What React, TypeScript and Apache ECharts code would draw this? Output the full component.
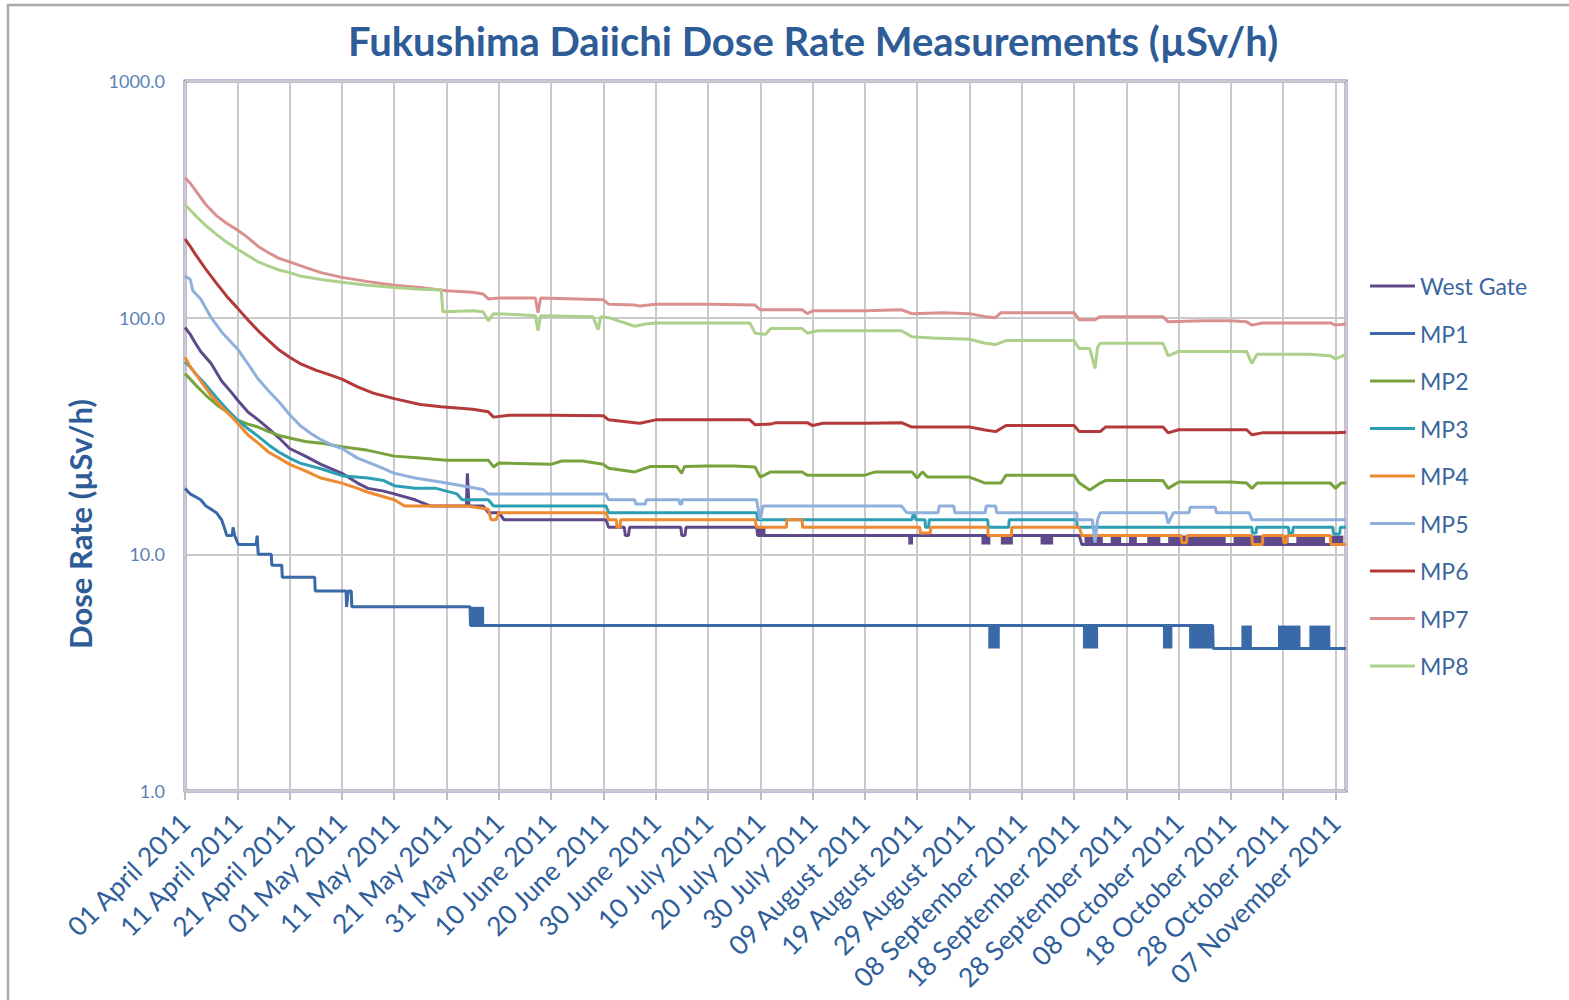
import React, { useEffect, useRef } from "react";
import * as echarts from "echarts";

const seriesNames = ["West Gate", "MP1", "MP2", "MP3", "MP4", "MP5", "MP6", "MP7", "MP8"];
const seriesColors = ["#5E4A8A", "#3A69A7", "#78A33C", "#2C9FB4", "#EE8A32", "#8FB0DC", "#B3393A", "#DA9090", "#ADD08A"];

const xTickLabels = [
  "01 April 2011", "11 April 2011", "21 April 2011", "01 May 2011", "11 May 2011", "21 May 2011",
  "31 May 2011", "10 June 2011", "20 June 2011", "30 June 2011", "10 July 2011", "20 July 2011",
  "30 July 2011", "09 August 2011", "19 August 2011", "29 August 2011", "08 September 2011",
  "18 September 2011", "28 September 2011", "08 October 2011", "18 October 2011",
  "28 October 2011", "07 November 2011",
];
const yTickValues = [1, 10, 100, 1000];

// [day since 01 April 2011, dose rate µSv/h]
const westGate = [[0,91],[1,85],[2,78],[3,72],[5,64],[7,54],[9,48],[10,45],[12,40],[14,37],[16,34],[18,31],[20,28],[23,26],[26,24],[30,22],[33,20],[35,19],[38,18.5],[40,18],[44,17],[47,16],[53.8,16],[54,22],[54.3,16],[57,16],[58,15],[60,15],[61,14],[80.5,14],[81,13],[84,13],[84.2,12],[84.8,12],[85,13],[94.8,13],[95,12],[95.6,12],[95.8,13],[109.3,13],[109.5,12],[171,12],[171.5,11],[222,11]];
const westGateBlocks = [[109.4,111,12,13],[138.3,139.2,11,12],[152.3,154,11,12],[156,158.3,11,12],[163.6,166,11,12],[172,175.5,11,12],[177,179,11,12],[180.5,182,11,12],[184,186.5,11,12],[188,199,11,12],[200.5,211,11,12],[212.5,218,11,12],[219,221.5,11,12]];

const mp1 = [[0,19],[1,18],[2,17.5],[3,17],[4,16],[5,15.5],[6,15],[7,14],[7.5,13],[8,12],[9,12],[9.2,13],[9.5,12],[10.2,11],[13.6,11],[13.8,12],[14,10],[16.5,10],[16.6,9],[18.5,9],[18.6,8],[24.8,8],[24.9,7],[30.8,7],[30.9,6],[31.2,7],[31.8,7],[31.9,6],[54.5,6],[54.6,5],[196.5,5],[196.6,4],[222,4]];
const mp1Blocks = [[54.6,57.2,5,6],[153.6,155.8,4,5],[171.7,174.6,4,5],[187,188.8,4,5],[192,196.5,4,5],[202,204,4,5],[209,213.3,4,5],[215,219,4,5]];

const mp2 = [[0,58],[1,55],[2,52],[4,47],[6,43],[8,40],[10,37],[12,35.5],[14,34.5],[16,33],[18,31.8],[20,31],[23,30],[26,29.5],[30,28.5],[35,27.5],[40,26],[45,25.5],[50,25],[55,25],[58,25],[59,23.4],[60,24.3],[70,24],[72,24.8],[76,24.8],[80,24],[81,23.1],[86,22.3],[89,23.5],[94,23.5],[95,22],[95.5,23.5],[100,23.6],[105,23.6],[109,23.4],[110,21.2],[112,22.3],[118,22.3],[119,21.6],[130,21.6],[132,22.3],[139,22.3],[140,21],[141,22.3],[142,21.2],[150,21.2],[153,20],[156,20],[157,21.6],[165,21.6],[170,21.6],[171,20],[173,18.7],[175,20],[176,20.5],[187,20.5],[188,19],[190,20.2],[200,20.2],[203,20],[204,19],[205,20],[215,20],[219,20],[220,19],[221,20],[222,20]];

const mp3 = [[0,65],[1,62],[2,58],[4,52],[6,46],[8,41],[10,37],[12,34],[14,31.5],[16,29],[18,27],[20,25.5],[22,24.3],[26,23],[30,21.5],[35,21],[38,20.5],[40,19.5],[44,19],[48,19],[52,18],[53,17],[58,17],[59,16],[80.5,16],[81,15],[109.3,15],[109.5,14],[139,14],[139.3,15],[139.8,14],[141.5,14],[141.6,13],[142.2,13],[142.3,14],[153.5,14],[153.6,13],[157.5,13],[157.6,14],[170.5,14],[170.6,13],[204,13],[204.1,12.3],[204.8,12.3],[204.9,13],[211,13],[211.1,12.3],[211.8,12.3],[211.9,13],[219.5,13],[219.6,12.2],[220.8,12.2],[220.9,13],[222,13]];

const mp4 = [[0,68],[1,62],[2,58],[3,54],[5,47],[7,42],[9,38],[10,36],[12,32],[14,29.5],[16,27],[18,25.5],[20,24],[23,22.5],[26,21],[30,20],[33,19],[35,18.3],[38,17.5],[40,17],[42,16],[54,16],[58,15.5],[58.5,14],[59.5,14],[60,15],[80.5,15],[81,14],[82.5,14],[82.6,13],[83.2,13],[83.3,14],[109,14],[109.3,13],[115,13],[115.1,14],[118,14],[118.1,13],[140.5,13],[140.6,12.3],[142.5,12.3],[142.6,13],[153.5,13],[153.6,12],[158,12],[158.1,13],[171,13],[171.5,12],[190.5,12],[190.6,11.2],[191.5,11.2],[191.6,12],[204,12],[204.1,11],[206,11],[206.1,12],[210,12],[210.1,11.2],[210.6,11.2],[210.7,12],[219,12],[219.1,11],[222,11]];

const mp5 = [[0,150],[1,145],[1.5,130],[3,120],[5,100],[7,87],[9,78],[10,74],[12,64],[14,55],[16,49],[18,44],[20,39],[22,35],[24,32.5],[26,30.5],[28,29],[30,28],[33,25.5],[36,24],[38,23],[40,22],[42,21.5],[44,21],[47,20.5],[50,20],[54,19.3],[57,18.8],[58,18],[80.5,18],[81,17],[86,17],[86.2,16.3],[88,16.3],[88.2,17],[94.5,17],[94.6,16.3],[95,16.3],[95.1,17],[109.3,17],[109.5,16],[110,14],[110.5,16],[137,16],[138,15],[144,15],[144.2,16],[147,16],[147.2,15],[153,15],[153.2,16],[155,16],[155.2,15],[170.5,15],[170.6,14],[173.5,14],[174,11.2],[174.5,14],[175,15],[187.5,15],[188,13.5],[189,15],[192,15],[192.2,15.8],[197,15.8],[197.2,15],[203.5,15],[204,14],[222,14]];

const mp6 = [[0,215],[1,200],[2,185],[4,160],[6,140],[8,123],[10,110],[12,98],[14,88],[16,80],[18,73],[20,68],[22,64],[25,60],[28,57],[30,55],[33,51],[36,48],[40,45.5],[45,43],[49,42],[55,41],[58,40],[59,38],[62,38.7],[70,38.7],[80,38.5],[81,37],[86,36],[87,35.8],[90,37],[100,37],[108,37],[109,35.3],[112,35.5],[113,36],[119,36],[120,35],[122,35.8],[130,35.8],[137,36],[139,34.5],[150,34.5],[153,33.5],[155,33],[157,35],[165,35],[170,35],[171,33],[175,33],[176,34.5],[187,34.5],[188,32.6],[190,33.6],[200,33.6],[203,33.6],[204,32],[206,32.6],[215,32.6],[220,32.6],[222,32.8]];

const mp7 = [[0,390],[1,370],[2,345],[4,300],[6,270],[8,250],[10,235],[12,218],[14,200],[16,188],[18,178],[20,172],[23,163],[26,155],[30,148],[35,142],[40,137],[45,134],[50,130],[55,128],[57,126],[58,120],[60,121],[65,121],[67,121],[67.5,105],[68,121],[75,120],[80,119],[81,114],[86,113],[87,112],[90,114],[100,114],[109,113],[110,108],[118,108],[119,104],[120,107],[130,107],[137,108],[139,104],[145,105],[150,104],[153,101],[155,100],[156,105],[165,105],[170,105],[171,98],[174,98],[175,101],[180,101],[187,101],[188,96],[195,97],[200,97],[203,96],[204,93],[206,95],[215,95],[219,95],[220,93],[222,94]];

const mp8 = [[0,300],[1,285],[2,270],[4,245],[6,225],[8,208],[10,195],[12,183],[14,172],[16,165],[18,159],[20,155],[22,150],[26,145],[30,141],[35,137],[40,134],[45,132],[49,131],[49.3,106],[55,107],[57,106],[58,97],[59,104],[64,103],[67,102],[67.5,88],[68,102],[78,101],[79,89],[79.5,101],[81,100],[86,92],[88,94],[90,95],[100,95],[108,95],[109,86],[111,85],[112,90],[118,90],[119,86],[121,88],[130,88],[137,88],[139,83],[143,82],[150,81],[153,78],[155,77],[157,80],[165,80],[170,80],[171,74],[173,74],[174,61],[174.5,75],[175,78],[180,78],[187,78],[188,69],[190,72],[200,72],[203,72],[204,64],[205,70],[210,70],[215,70],[219,69],[220,67],[222,70]];

const seriesData = [westGate, mp1, mp2, mp3, mp4, mp5, mp6, mp7, mp8];
const seriesBlocks: Record<number, number[][]> = { 0: westGateBlocks, 1: mp1Blocks };

const FONT = "Lato";

export default function App() {
  const ref = useRef<HTMLDivElement>(null);
  useEffect(() => {
    if (!ref.current) return;
    const chart = echarts.init(ref.current, null, { renderer: "svg" });
    const series = seriesNames.map((name, i) => {
      const blocks = seriesBlocks[i];
      const s: any = {
        name,
        type: "line",
        data: seriesData[i],
        showSymbol: false,
        symbol: "none",
        color: seriesColors[i],
        lineStyle: { color: seriesColors[i], width: 3 },
        itemStyle: { color: seriesColors[i] },
      };
      if (blocks) {
        s.markArea = {
          silent: true,
          label: { show: false },
          itemStyle: { color: seriesColors[i], opacity: 1 },
          data: blocks.map((b) => [{ coord: [b[0], b[2]] }, { coord: [b[1], b[3]] }]),
        };
      }
      return s;
    });
    chart.setOption({
      animation: false,
      backgroundColor: "#ffffff",
      title: {
        text: "Fukushima Daiichi Dose Rate Measurements (µSv/h)",
        left: 808,
        top: 16,
        textAlign: "center",
        textStyle: { fontFamily: FONT, fontWeight: "bold", fontSize: 40, color: "#2E5C97" },
      },
      legend: {
        orient: "vertical",
        left: 1365,
        top: 269,
        icon: "rect",
        itemWidth: 45,
        itemHeight: 3,
        itemGap: 23.5,
        data: seriesNames,
        textStyle: { fontFamily: FONT, fontSize: 23, color: "#3A669F", lineHeight: 24 },
      },
      grid: {
        left: 185,
        right: 223,
        top: 81,
        bottom: 209,
        show: true,
        borderColor: "#8E72B5",
        borderWidth: 3,
      },
      xAxis: {
        type: "value",
        min: 0,
        max: 222,
        interval: 10,
        axisLine: { show: false },
        axisTick: { show: true, length: 9, lineStyle: { color: "#BDBDBD", width: 2 } },
        splitLine: { show: true, lineStyle: { color: "#C9C9C9", width: 2 } },
        axisLabel: {
          rotate: 45,
          margin: 27,
          showMaxLabel: false,
          fontFamily: FONT,
          fontSize: 26.5,
          color: "#2F5E9A",
          formatter: (v: number) => xTickLabels[Math.round(v / 10)] ?? "",
        },
      },
      yAxis: {
        type: "log",
        logBase: 10,
        min: yTickValues[0],
        max: yTickValues[yTickValues.length - 1],
        axisLine: { show: false },
        axisTick: { show: false },
        splitLine: { show: true, lineStyle: { color: "#C9C9C9", width: 2 } },
        axisLabel: {
          margin: 20,
          fontFamily: FONT,
          fontSize: 18,
          color: "#5A82B8",
          formatter: (v: number) => Number(v).toFixed(1),
        },
      },
      graphic: [
        {
          type: "rect",
          silent: true,
          shape: { x: 8, y: 5, width: 1570, height: 1010 },
          style: { fill: "none", stroke: "#A8A8A8", lineWidth: 2.5 },
          z: -1,
        },
        {
          type: "text",
          x: 80,
          y: 524,
          rotation: Math.PI / 2,
          style: {
            text: "Dose Rate (µSv/h)",
            fontFamily: FONT,
            fontWeight: "bold",
            fontSize: 31,
            fill: "#2E5C97",
            align: "center",
            verticalAlign: "middle",
          },
        },
      ],
      series,
    });
    return () => chart.dispose();
  }, []);
  return (
    <div
      ref={ref}
      style={{ position: "absolute", left: 0, top: 0, width: 1569, height: 1000, background: "#fff" }}
    />
  );
}
